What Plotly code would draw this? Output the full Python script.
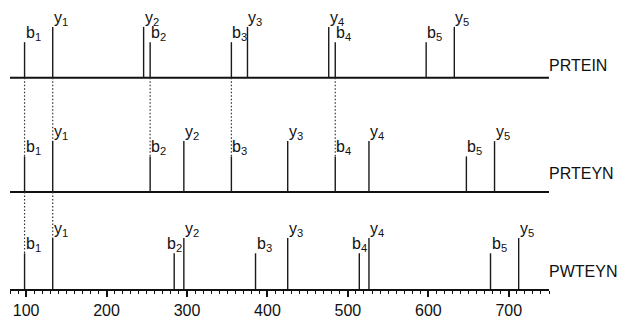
import plotly.graph_objects as go

# ---------------- data ----------------
sequences = ["PRTEIN", "PRTEYN", "PWTEYN"]
ion_numbers = [1, 2, 3, 4, 5]

b_mz_prtein = [98.1, 254.2, 355.2, 484.3, 597.3]
y_mz_prtein = [133.1, 246.1, 375.2, 476.2, 632.3]
b_mz_prteyn = [98.1, 254.2, 355.2, 484.3, 647.3]
y_mz_prteyn = [133.1, 296.1, 425.2, 526.2, 682.3]
b_mz_pwteyn = [98.1, 284.1, 385.2, 514.2, 677.3]
y_mz_pwteyn = [133.1, 296.1, 425.2, 526.2, 712.3]

b_int_prtein = [70, 70, 70, 70, 70]
y_int_prtein = [100, 100, 100, 100, 100]
b_int_prteyn = [70, 70, 70, 70, 70]
y_int_prteyn = [100, 100, 100, 100, 100]
b_int_pwteyn = [70, 70, 70, 70, 70]
y_int_pwteyn = [100, 100, 100, 100, 100]

# shared fragments joined by dotted lines: (upper spectrum index, ion type, ion number)
shared_links = [(0, "b", 1), (0, "y", 1), (0, "b", 2), (0, "b", 3), (0, "b", 4),
                (1, "b", 1), (1, "y", 1)]

tick_values = [100, 200, 300, 400, 500, 600, 700]

# ---------------- layout / style constants ----------------
PANEL_OFFSET = [414, 190, 0]
NAME_RAISE = [24, 36, 35]
FONT = "Liberation Sans, Arial, Helvetica, sans-serif"
X_RANGE = [80, 750]
Y_RANGE = [0, 566.7]

spectra = [
    dict(b=b_mz_prtein, y=y_mz_prtein, bi=b_int_prtein, yi=y_int_prtein),
    dict(b=b_mz_prteyn, y=y_mz_prteyn, bi=b_int_prteyn, yi=y_int_prteyn),
    dict(b=b_mz_pwteyn, y=y_mz_pwteyn, bi=b_int_pwteyn, yi=y_int_pwteyn),
]

fig = go.Figure()
annotations = []

for p, spec in enumerate(spectra):
    off = PANEL_OFFSET[p]
    # baseline (panel 3 uses the x axis line)
    if off > 0:
        fig.add_trace(go.Scatter(x=X_RANGE, y=[off, off], mode="lines",
                                 line=dict(color="#111", width=2), hoverinfo="skip"))
    xs, ys = [], []
    for kind in ("b", "y"):
        mz = spec[kind]
        inten = spec["bi"] if kind == "b" else spec["yi"]
        for k, (m, h) in enumerate(zip(mz, inten)):
            xs += [m, m, None]
            ys += [off, off + h, None]
            anchor = "left"
            xshift = -1
            m_lab = m
            # keep b label clear of a y peak that follows closely
            if kind == "b" and p == 2:
                nxt = [ym for ym in spec["y"] if 0 < ym - m < 20]
                if nxt:
                    anchor = "right"
                    m_lab = nxt[0]
                    xshift = 0
            annotations.append(dict(
                x=m_lab, y=off + h, xref="x", yref="y",
                text=f"{kind}<sub>{ion_numbers[k]}</sub>",
                showarrow=False, xanchor=anchor, yanchor="bottom",
                xshift=xshift, yshift=-3,
                font=dict(family=FONT, size=16, color="#111")))
    fig.add_trace(go.Scatter(x=xs, y=ys, mode="lines",
                             line=dict(color="#1a1a1a", width=1.4), hoverinfo="skip"))
    annotations.append(dict(
        x=1, xref="paper", y=off + NAME_RAISE[p], yref="y",
        text=sequences[p], showarrow=False, xanchor="left", yanchor="middle",
        xshift=-2, font=dict(family=FONT, size=16, color="#111")))

# dotted connectors
dx, dy = [], []
for upper, kind, n in shared_links:
    lower = upper + 1
    m = spectra[lower][kind][n - 1]
    h = spectra[lower]["bi" if kind == "b" else "yi"][n - 1]
    dx += [m, m, None]
    dy += [PANEL_OFFSET[upper], PANEL_OFFSET[lower] + h, None]
fig.add_trace(go.Scatter(x=dx, y=dy, mode="lines",
                         line=dict(color="#333", width=1.2, dash="1.5px,2px"),
                         hoverinfo="skip"))

fig.update_layout(
    width=618, height=320,
    margin=dict(l=10, r=69, t=0, b=31),
    paper_bgcolor="white", plot_bgcolor="white",
    showlegend=False,
    annotations=annotations,
    xaxis=dict(range=X_RANGE, showline=True, linecolor="#111", linewidth=2,
               ticks="outside", ticklen=6, tickwidth=1.5, tickcolor="#111",
               tickvals=tick_values, ticktext=[str(v) for v in tick_values],
               showgrid=False, zeroline=False,
               tickfont=dict(family=FONT, size=16, color="#111"),
               minor=dict(ticks="outside", ticklen=3, dtick=10, tick0=0,
                          tickcolor="#111", tickwidth=1, showgrid=False)),
    yaxis=dict(range=Y_RANGE, visible=False, fixedrange=True),
)

fig.write_html(
    "out.html",
    config={"displayModeBar": False},
    post_script="document.body.style.margin='0';document.body.style.overflow='hidden';",
)
